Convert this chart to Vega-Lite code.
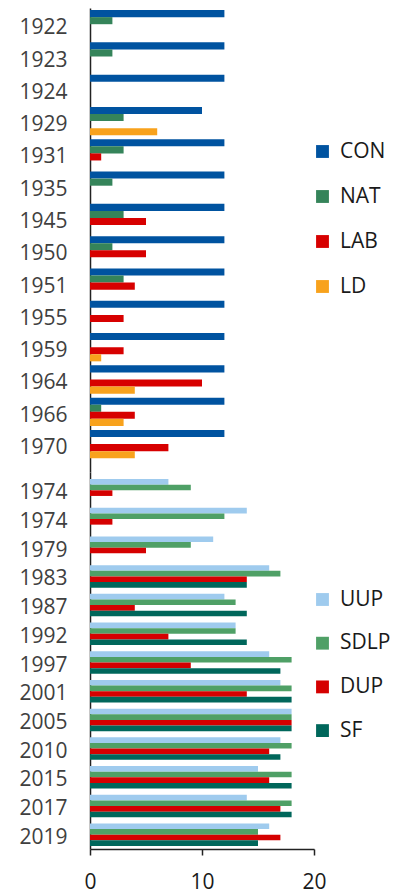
{
  "$schema": "https://vega.github.io/schema/vega-lite/v6.json",
  "padding": {"left": 18, "top": 8, "right": 0, "bottom": 0},
  "background": "white",
  "config": {
    "font": "Open Sans",
    "view": {"stroke": null},
    "axis": {"grid": false, "domainColor": "#222222", "domainWidth": 1.5, "labelFont": "Open Sans", "labelFontSize": 21, "labelColor": "#404040"},
    "legend": {"labelFont": "Open Sans", "labelFontSize": 21, "labelColor": "#1a1a1a", "symbolType": "square", "symbolSize": 165, "symbolStrokeWidth": 0, "rowPadding": 23, "labelOffset": 7, "title": null}
  },
  "datasets": {
    "early": [
      {"election": "1922", "party": "CON", "seats": 12}, {"election": "1922", "party": "NAT", "seats": 2},
      {"election": "1923", "party": "CON", "seats": 12}, {"election": "1923", "party": "NAT", "seats": 2},
      {"election": "1924", "party": "CON", "seats": 12},
      {"election": "1929", "party": "CON", "seats": 10}, {"election": "1929", "party": "NAT", "seats": 3}, {"election": "1929", "party": "LD", "seats": 6},
      {"election": "1931", "party": "CON", "seats": 12}, {"election": "1931", "party": "NAT", "seats": 3}, {"election": "1931", "party": "LAB", "seats": 1},
      {"election": "1935", "party": "CON", "seats": 12}, {"election": "1935", "party": "NAT", "seats": 2},
      {"election": "1945", "party": "CON", "seats": 12}, {"election": "1945", "party": "NAT", "seats": 3}, {"election": "1945", "party": "LAB", "seats": 5},
      {"election": "1950", "party": "CON", "seats": 12}, {"election": "1950", "party": "NAT", "seats": 2}, {"election": "1950", "party": "LAB", "seats": 5},
      {"election": "1951", "party": "CON", "seats": 12}, {"election": "1951", "party": "NAT", "seats": 3}, {"election": "1951", "party": "LAB", "seats": 4},
      {"election": "1955", "party": "CON", "seats": 12}, {"election": "1955", "party": "LAB", "seats": 3},
      {"election": "1959", "party": "CON", "seats": 12}, {"election": "1959", "party": "LAB", "seats": 3}, {"election": "1959", "party": "LD", "seats": 1},
      {"election": "1964", "party": "CON", "seats": 12}, {"election": "1964", "party": "LAB", "seats": 10}, {"election": "1964", "party": "LD", "seats": 4},
      {"election": "1966", "party": "CON", "seats": 12}, {"election": "1966", "party": "NAT", "seats": 1}, {"election": "1966", "party": "LAB", "seats": 4}, {"election": "1966", "party": "LD", "seats": 3},
      {"election": "1970", "party": "CON", "seats": 12}, {"election": "1970", "party": "LAB", "seats": 7}, {"election": "1970", "party": "LD", "seats": 4}
    ],
    "late": [
      {"election": "1974 Feb", "party": "UUP", "seats": 7}, {"election": "1974 Feb", "party": "SDLP", "seats": 9}, {"election": "1974 Feb", "party": "DUP", "seats": 2},
      {"election": "1974 Oct", "party": "UUP", "seats": 14}, {"election": "1974 Oct", "party": "SDLP", "seats": 12}, {"election": "1974 Oct", "party": "DUP", "seats": 2},
      {"election": "1979", "party": "UUP", "seats": 11}, {"election": "1979", "party": "SDLP", "seats": 9}, {"election": "1979", "party": "DUP", "seats": 5},
      {"election": "1983", "party": "UUP", "seats": 16}, {"election": "1983", "party": "SDLP", "seats": 17}, {"election": "1983", "party": "DUP", "seats": 14}, {"election": "1983", "party": "SF", "seats": 14},
      {"election": "1987", "party": "UUP", "seats": 12}, {"election": "1987", "party": "SDLP", "seats": 13}, {"election": "1987", "party": "DUP", "seats": 4}, {"election": "1987", "party": "SF", "seats": 14},
      {"election": "1992", "party": "UUP", "seats": 13}, {"election": "1992", "party": "SDLP", "seats": 13}, {"election": "1992", "party": "DUP", "seats": 7}, {"election": "1992", "party": "SF", "seats": 14},
      {"election": "1997", "party": "UUP", "seats": 16}, {"election": "1997", "party": "SDLP", "seats": 18}, {"election": "1997", "party": "DUP", "seats": 9}, {"election": "1997", "party": "SF", "seats": 17},
      {"election": "2001", "party": "UUP", "seats": 17}, {"election": "2001", "party": "SDLP", "seats": 18}, {"election": "2001", "party": "DUP", "seats": 14}, {"election": "2001", "party": "SF", "seats": 18},
      {"election": "2005", "party": "UUP", "seats": 18}, {"election": "2005", "party": "SDLP", "seats": 18}, {"election": "2005", "party": "DUP", "seats": 18}, {"election": "2005", "party": "SF", "seats": 18},
      {"election": "2010", "party": "UUP", "seats": 17}, {"election": "2010", "party": "SDLP", "seats": 18}, {"election": "2010", "party": "DUP", "seats": 16}, {"election": "2010", "party": "SF", "seats": 17},
      {"election": "2015", "party": "UUP", "seats": 15}, {"election": "2015", "party": "SDLP", "seats": 18}, {"election": "2015", "party": "DUP", "seats": 16}, {"election": "2015", "party": "SF", "seats": 18},
      {"election": "2017", "party": "UUP", "seats": 14}, {"election": "2017", "party": "SDLP", "seats": 18}, {"election": "2017", "party": "DUP", "seats": 17}, {"election": "2017", "party": "SF", "seats": 18},
      {"election": "2019", "party": "UUP", "seats": 16}, {"election": "2019", "party": "SDLP", "seats": 15}, {"election": "2019", "party": "DUP", "seats": 17}, {"election": "2019", "party": "SF", "seats": 15}
    ]
  },
  "spacing": 0,
  "resolve": {"scale": {"color": "independent", "y": "independent", "yOffset": "independent"}, "legend": {"color": "independent"}},
  "vconcat": [
    {
      "width": 224,
      "height": 464,
      "data": {"name": "early"},
      "mark": {"type": "bar"},
      "encoding": {
        "y": {"field": "election", "type": "nominal", "sort": null, "scale": {"paddingInner": 0.124, "paddingOuter": 0.245, "align": 0.13},
          "axis": {"title": null, "ticks": false, "tickSize": 0, "labelPadding": 23, "labelOffset": 4, "minExtent": 72, "maxExtent": 72}},
        "yOffset": {"field": "party", "type": "nominal", "sort": ["CON", "NAT", "LAB", "LD"], "scale": {"domain": ["CON", "NAT", "LAB", "LD"], "paddingInner": 0, "paddingOuter": 0}},
        "x": {"field": "seats", "type": "quantitative", "scale": {"domain": [0, 20], "nice": false}, "axis": null},
        "color": {"field": "party", "type": "nominal", "scale": {"domain": ["CON", "NAT", "LAB", "LD"], "range": ["#0053A0", "#35845A", "#D70000", "#F8A21C"]},
          "legend": {"orient": "none", "legendX": 222, "legendY": 133, "rowPadding": 23}}
      }
    },
    {
      "width": 224,
      "height": 377,
      "data": {"name": "late"},
      "mark": {"type": "bar"},
      "encoding": {
        "y": {"field": "election", "type": "nominal", "sort": null, "scale": {"paddingInner": 0.216, "paddingOuter": 0.176, "align": 0.7},
          "axis": {"title": null, "ticks": false, "tickSize": 0, "labelPadding": 23, "labelOffset": 3, "minExtent": 72, "maxExtent": 72, "labelExpr": "substring(datum.label, 0, 4)"}},
        "yOffset": {"field": "party", "type": "nominal", "sort": ["UUP", "SDLP", "DUP", "SF"], "scale": {"domain": ["UUP", "SDLP", "DUP", "SF"], "paddingInner": 0, "paddingOuter": 0}},
        "x": {"field": "seats", "type": "quantitative", "scale": {"domain": [0, 20], "nice": false},
          "axis": {"title": null, "values": [0, 10, 20], "tickSize": 6, "tickColor": "#222222", "tickWidth": 1.5, "labelPadding": 16, "labelFlush": false, "labelColor": "#1a1a1a"}},
        "color": {"field": "party", "type": "nominal", "scale": {"domain": ["UUP", "SDLP", "DUP", "SF"], "range": ["#9FCBEE", "#4FA066", "#D50000", "#00675B"]},
          "legend": {"orient": "none", "legendX": 222, "legendY": 117, "rowPadding": 21.7}}
      }
    }
  ]
}
